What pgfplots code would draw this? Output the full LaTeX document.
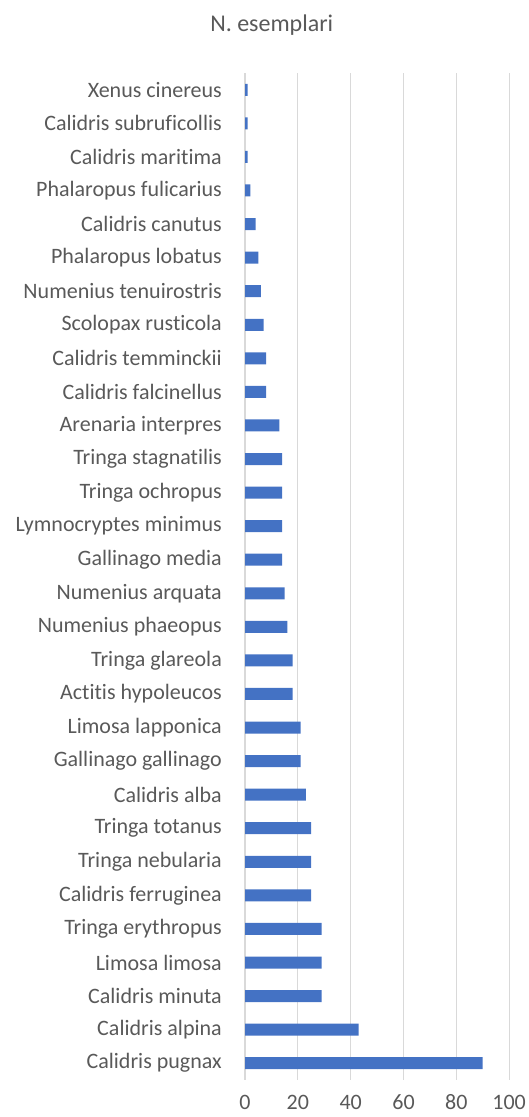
\documentclass[border=0pt]{standalone}
\usepackage{pgfplots}
\pgfplotsset{compat=1.18}
\usepackage{fontspec}
\setmainfont{Carlito}[Ligatures={NoCommon}]
\definecolor{barblue}{HTML}{4472C4}
\definecolor{gridgray}{HTML}{D9D9D9}
\definecolor{textgray}{HTML}{595959}

\begin{document}
\begin{tikzpicture}
% page size fixed to the reference proportions (1px = 0.75pt)
\useasboundingbox (-183.75pt,-27.75pt) rectangle (212.25pt,809.75pt);
\begin{axis}[
  xbar,
  scale only axis,
  width=198pt, height=755pt,
  xmin=0, xmax=100,
  ymin=-0.5, ymax=29.5,
  xtick={0,20,40,60,80,100},
  ytick={0,...,29},
  yticklabels={
    Calidris pugnax, Calidris alpina, Calidris minuta, Limosa limosa,
    Tringa erythropus, Calidris ferruginea, Tringa nebularia, Tringa totanus,
    Calidris alba, Gallinago gallinago, Limosa lapponica, Actitis hypoleucos,
    Tringa glareola, Numenius phaeopus, Numenius arquata, Gallinago media,
    Lymnocryptes minimus, Tringa ochropus, Tringa stagnatilis, Arenaria interpres,
    Calidris falcinellus, Calidris temminckii, Scolopax rusticola, Numenius tenuirostris,
    Phalaropus lobatus, Calidris canutus, Phalaropus fulicarius, Calidris maritima,
    Calidris subruficollis, Xenus cinereus},
  axis line style={draw=none},
  major tick length=0pt,
  xmajorgrids=true,
  grid style={gridgray, line width=0.9pt},
  /pgf/number format/assume math mode=true,
  tick label style={font=\fontsize{16.5}{19}\selectfont, text=textgray},
  yticklabel style={anchor=east, inner sep=0pt, xshift=-17.25pt},
  xticklabel style={anchor=north, inner sep=0pt, yshift=-11pt},
]
\addplot[fill=barblue, draw=none, bar width=9pt] coordinates {
  (90,0) (43,1) (29,2) (29,3) (29,4) (25,5) (25,6) (25,7)
  (23,8) (21,9) (21,10) (18,11) (18,12) (16,13) (15,14) (14,15)
  (14,16) (14,17) (14,18) (13,19) (8,20) (8,21) (7,22) (6,23)
  (5,24) (4,25) (2,26) (1,27) (1,28) (1,29)
};
\end{axis}
\node[anchor=base, text=textgray, font=\fontsize{18}{21}\selectfont] at (20pt,785.75pt) {N. esemplari};
\end{tikzpicture}
\end{document}
